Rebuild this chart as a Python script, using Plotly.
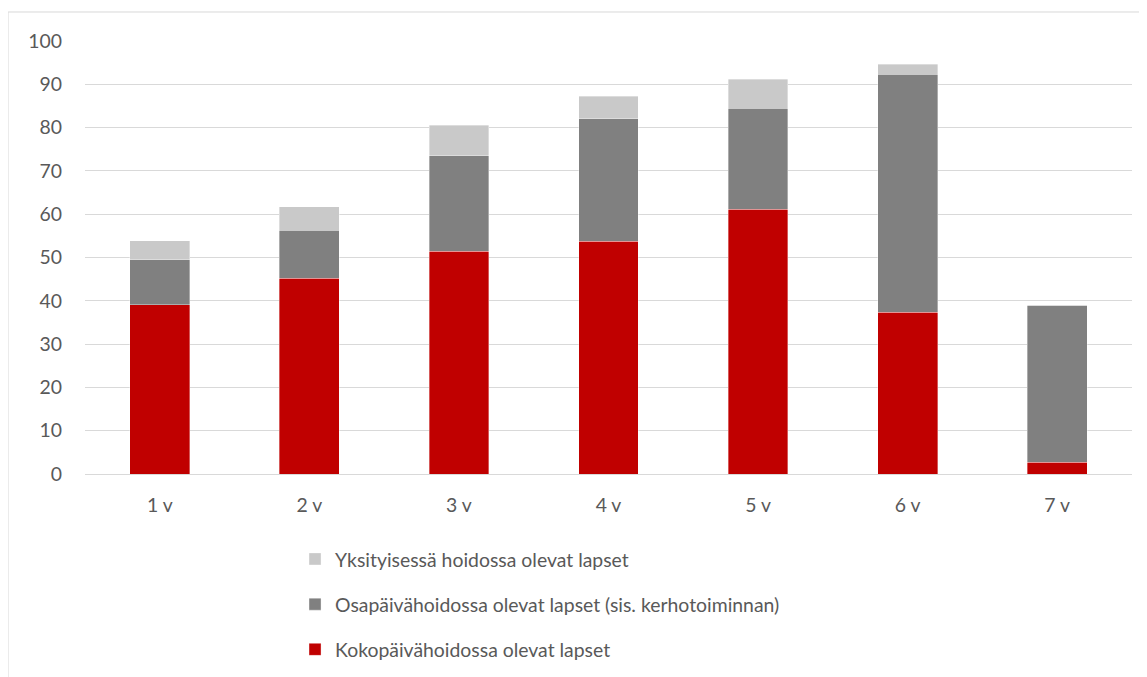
import plotly.graph_objects as go

categories = ["1 v", "2 v", "3 v", "4 v", "5 v", "6 v", "7 v"]
kokopaiva = [39.1, 45.2, 51.5, 53.7, 61.1, 37.3, 2.7]
osapaiva = [10.4, 11.1, 22.0, 28.4, 23.4, 55.0, 36.3]
yksityinen = [4.4, 5.4, 7.0, 5.1, 6.7, 2.3, 0.0]

names = ["Kokopäivähoidossa olevat lapset",
         "Osapäivähoidossa olevat lapset (sis. kerhotoiminnan)",
         "Yksityisessä hoidossa olevat lapset"]
colors = ["#c00000", "#808080", "#c9c9c9"]
ranks = [3, 2, 1]

FONT = "Lato"
TXT = "#595959"
FS = 19.4

fig = go.Figure()
for vals, name, col, rk in zip([kokopaiva, osapaiva, yksityinen], names, colors, ranks):
    fig.add_trace(go.Bar(
        x=categories, y=vals, name=name, legendgroup=name, legendrank=rk,
        marker=dict(color=col, line=dict(color="rgba(255,255,255,0.5)", width=0.7)),
        width=0.4,
    ))

fig.update_layout(
    width=1147, height=677,
    margin=dict(l=77, r=23, t=33, b=211, autoexpand=False),
    barmode="stack",
    plot_bgcolor="white", paper_bgcolor="white",
    font=dict(family=FONT, size=FS, color=TXT),
    legend=dict(
        x=0.2006, xanchor="left", y=-0.152, yanchor="top",
        traceorder="grouped", tracegroupgap=17,
        font=dict(family=FONT, size=FS, color=TXT),
        itemwidth=30,
    ),
    xaxis=dict(showgrid=False, showline=False, ticks="", ticklabelstandoff=18,
               tickfont=dict(family=FONT, size=FS, color=TXT)),
    yaxis=dict(range=[0, 100], dtick=10, showgrid=True, gridcolor="#d9d9d9",
               gridwidth=1, zeroline=True, zerolinecolor="#d9d9d9", zerolinewidth=1,
               showline=False, ticks="", ticklabelstandoff=22,
               tickfont=dict(family=FONT, size=FS, color=TXT)),
    shapes=[dict(type="rect", xref="paper", yref="paper",
                 x0=-0.0735, x1=1.2, y0=-1.0, y1=1.067,
                 line=dict(color="#d9d9d9", width=1), fillcolor="rgba(0,0,0,0)",
                 layer="below")],
)

fig.write_html("out.html")
